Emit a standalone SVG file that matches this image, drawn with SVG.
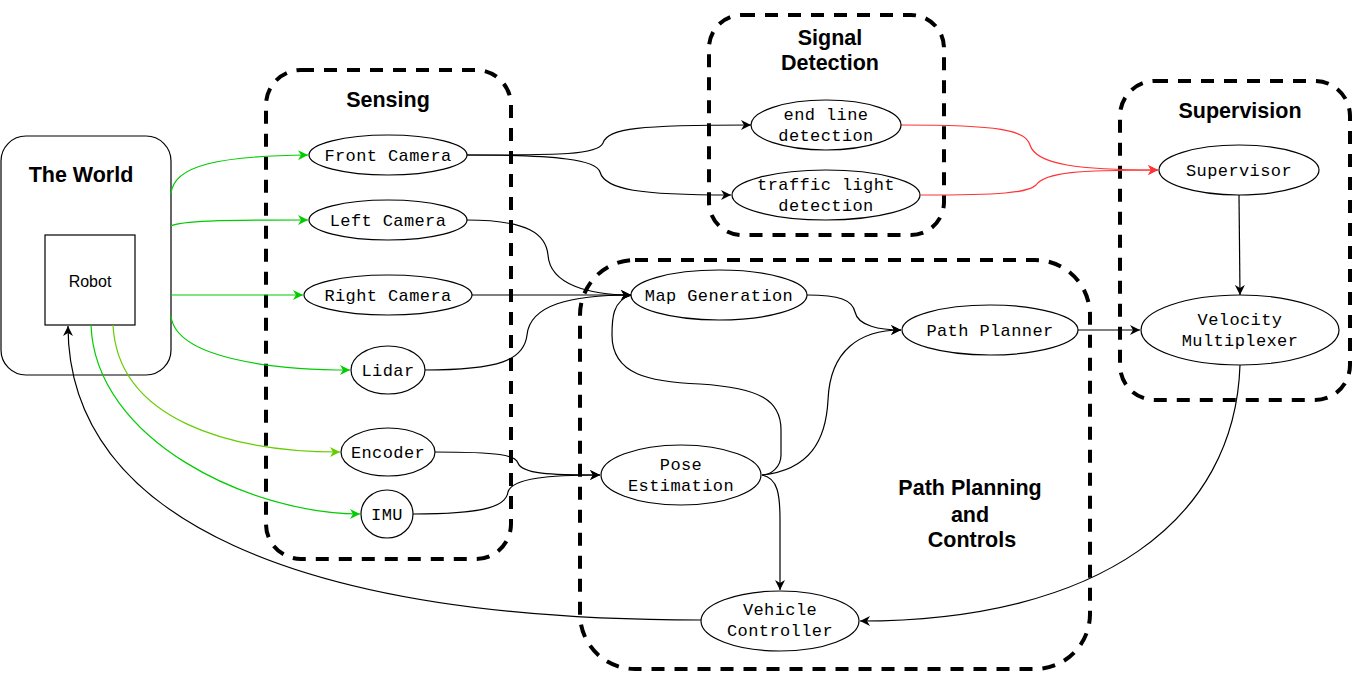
<svg xmlns="http://www.w3.org/2000/svg" width="1355" height="673" viewBox="0 0 1355 673">
<defs>
<style>
.grp{fill:none;stroke:#000;stroke-width:4;stroke-dasharray:13 10}
.nd{fill:#fff;stroke:#000;stroke-width:1.2}
.lbl{font-family:"Liberation Mono","Courier New",monospace;font-size:17px;letter-spacing:0.4px;text-anchor:middle;fill:#000}
.ttl{font-family:"Liberation Sans",Arial,sans-serif;font-size:21.5px;font-weight:bold;text-anchor:middle;fill:#000}
.e{fill:none;stroke:#000;stroke-width:1.2;marker-end:url(#ab)}
.g{fill:none;stroke:#00cc00;stroke-width:1.2;marker-end:url(#ag)}
.y{fill:none;stroke:#66cc00;stroke-width:1.2;marker-end:url(#ay)}
.r{fill:none;stroke:#ff3333;stroke-width:1.2;marker-end:url(#ar)}
.n{fill:none;stroke:#000;stroke-width:1.2}
</style>
<marker id="ab" markerWidth="11" markerHeight="10" refX="10" refY="5" orient="auto" markerUnits="userSpaceOnUse"><path d="M0,0 L10,5 L0,10 L3,5 Z" fill="#000"/></marker>
<marker id="ag" markerWidth="11" markerHeight="10" refX="10" refY="5" orient="auto" markerUnits="userSpaceOnUse"><path d="M0,0 L10,5 L0,10 L3,5 Z" fill="#00cc00"/></marker>
<marker id="ay" markerWidth="11" markerHeight="10" refX="10" refY="5" orient="auto" markerUnits="userSpaceOnUse"><path d="M0,0 L10,5 L0,10 L3,5 Z" fill="#66cc00"/></marker>
<marker id="ar" markerWidth="11" markerHeight="10" refX="10" refY="5" orient="auto" markerUnits="userSpaceOnUse"><path d="M0,0 L10,5 L0,10 L3,5 Z" fill="#ff3333"/></marker>
</defs>
<rect width="1355" height="673" fill="#fff"/>

<g id="groups">
<g id="sensing-group"><rect class="grp" x="266" y="70" width="245" height="489" rx="35"/><text class="ttl" x="388" y="107">Sensing</text></g>
<g id="signal-group"><rect class="grp" x="709" y="15" width="235" height="220" rx="33"/><text class="ttl" x="830" y="45">Signal</text><text class="ttl" x="830" y="70">Detection</text></g>
<g id="path-group"><rect class="grp" x="580" y="260" width="510" height="409" rx="55"/><text class="ttl" x="970" y="495">Path Planning</text><text class="ttl" x="970" y="522">and</text><text class="ttl" x="972" y="547">Controls</text></g>
<g id="supervision-group"><rect class="grp" x="1120" y="81" width="230" height="319" rx="35"/><text class="ttl" x="1240" y="118">Supervision</text></g>
</g>

<g id="world"><rect x="1" y="136" width="170" height="239" rx="25" fill="#fff" stroke="#000" stroke-width="1.2"/><text class="ttl" x="81" y="182">The World</text></g>
<g id="robot"><rect x="45" y="235" width="90" height="90" fill="#fff" stroke="#000" stroke-width="1.2"/><text x="90" y="287" font-family="Liberation Sans, Arial, sans-serif" font-size="16" text-anchor="middle">Robot</text></g>

<g id="connectors">
<path class="g" d="M171,194 C173,165 220,156 308,155"/>
<path class="g" d="M171,226 C180,221 220,220 308,220"/>
<path class="g" d="M171,295 L303,295"/>
<path class="g" d="M171,316 C176,360 280,370 350,370"/>
<path class="y" d="M113,325 C118,420 230,452 340,452"/>
<path class="g" d="M91,325 C95,440 250,514 360,514"/>
<path class="e" d="M701,620 C300,620 68,520 68,326"/>
<path class="e" d="M466,155 C560,155 598,155 603,143 C608,128 640,125 751,125"/>
<path class="e" d="M466,155 C560,155 596,160 600,172 C605,190 640,195 731,195"/>
<path class="e" d="M466,220 C530,220 546,235 548,255 C550,285 590,295 631,295"/>
<path class="e" d="M471,295 L631,295"/>
<path class="e" d="M424,370 C500,370 524,360 527,335 C530,305 570,295 631,295"/>
<path class="n" d="M632,295 C612,300 612,320 612,335 C612,375 650,382 700,384 C760,388 781,400 781,430 L781,455 C781,468 770,475 762,475"/>
<path class="e" d="M807,295 C840,295 852,300 855,312 C858,326 880,330 901,330"/>
<path class="e" d="M762,475 C810,470 826,440 828,400 C830,350 860,330 901,330"/>
<path class="e" d="M762,475 C778,478 780,495 780,520 L780,590"/>
<path class="e" d="M434,452 C500,452 515,455 518,463 C522,474 550,475 600,475"/>
<path class="e" d="M413,514 C490,514 506,505 508,492 C512,478 550,475 600,475"/>
<path class="e" d="M1077,330 L1140,330"/>
<path class="e" d="M1239,195 L1240,295"/>
<path class="e" d="M1240,365 C1235,520 1100,621 860,621"/>
<path class="r" d="M901,125 C1000,125 1025,130 1030,145 C1036,165 1080,170 1158,170"/>
<path class="r" d="M921,195 C1000,195 1028,193 1036,185 C1045,172 1080,170 1158,170"/>
</g>

<g id="front-camera"><ellipse class="nd" cx="388" cy="155" rx="79" ry="20"/><text class="lbl" x="388" y="161">Front Camera</text></g>
<g id="left-camera"><ellipse class="nd" cx="388" cy="220" rx="79" ry="20"/><text class="lbl" x="388" y="226">Left Camera</text></g>
<g id="right-camera"><ellipse class="nd" cx="388" cy="295" rx="84" ry="20"/><text class="lbl" x="388" y="301">Right Camera</text></g>
<g id="lidar"><ellipse class="nd" cx="388" cy="370" rx="37" ry="24"/><text class="lbl" x="388" y="376">Lidar</text></g>
<g id="encoder"><ellipse class="nd" cx="388" cy="452" rx="47" ry="24"/><text class="lbl" x="388" y="458">Encoder</text></g>
<g id="imu"><ellipse class="nd" cx="387" cy="514" rx="26" ry="24"/><text class="lbl" x="387" y="520">IMU</text></g>
<g id="end-line"><ellipse class="nd" cx="826" cy="125" rx="75" ry="25"/><text class="lbl" x="826" y="120">end line</text><text class="lbl" x="826" y="141">detection</text></g>
<g id="traffic-light"><ellipse class="nd" cx="826" cy="195" rx="94" ry="25"/><text class="lbl" x="826" y="190">traffic light</text><text class="lbl" x="826" y="211">detection</text></g>
<g id="supervisor"><ellipse class="nd" cx="1239" cy="170" rx="80" ry="25"/><text class="lbl" x="1239" y="176">Supervisor</text></g>
<g id="velocity-mux"><ellipse class="nd" cx="1240" cy="330" rx="99" ry="35"/><text class="lbl" x="1240" y="325">Velocity</text><text class="lbl" x="1240" y="346">Multiplexer</text></g>
<g id="map-generation"><ellipse class="nd" cx="719" cy="295" rx="88" ry="25"/><text class="lbl" x="719" y="301">Map Generation</text></g>
<g id="path-planner"><ellipse class="nd" cx="990" cy="330" rx="88" ry="25"/><text class="lbl" x="990" y="336">Path Planner</text></g>
<g id="pose-estimation"><ellipse class="nd" cx="681" cy="475" rx="80" ry="30"/><text class="lbl" x="681" y="470">Pose</text><text class="lbl" x="681" y="491">Estimation</text></g>
<g id="vehicle-controller"><ellipse class="nd" cx="780" cy="621" rx="79" ry="30"/><text class="lbl" x="780" y="615">Vehicle</text><text class="lbl" x="780" y="636">Controller</text></g>
</svg>
